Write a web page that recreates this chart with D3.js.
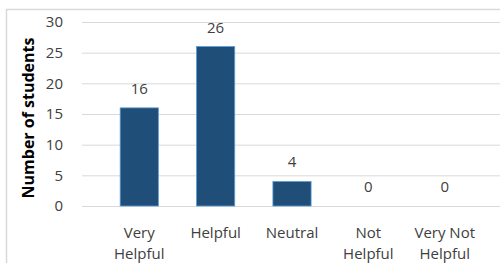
<!DOCTYPE html>
<html><head><meta charset="utf-8">
<script src="https://cdn.jsdelivr.net/npm/d3@7"></script>
<style>body{margin:0;background:#fff}svg{display:block}</style>
</head><body>
<script>
const categories = [["Very","Helpful"],["Helpful"],["Neutral"],["Not","Helpful"],["Very Not","Helpful"]];
const values = [16, 26, 4, 0, 0];
const yTicks = [0, 5, 10, 15, 20, 25, 30];
const yTitle = "Number of students";

const W = 500, H = 263;
const svg = d3.select("body").append("svg").attr("width", W).attr("height", H);
const font = "'Open Sans', 'Noto Sans', sans-serif";
const txt = "#404040";

svg.append("rect").attr("x", 6.5).attr("y", 9.5).attr("width", 500).attr("height", 300)
  .attr("fill", "none").attr("stroke", "#d9d9d9").attr("stroke-width", 1.5);

const x = d3.scaleBand().domain(d3.range(categories.length)).range([82, 502]).padding(0.5);
const y = d3.scaleLinear().domain([0, 30]).range([206, 22]);

const g = svg.append("g");
const yAxis = g.append("g").attr("transform", "translate(82,0)")
  .call(d3.axisLeft(y).tickValues(yTicks).tickSize(-420).tickPadding(19));
yAxis.select(".domain").remove();
yAxis.selectAll(".tick line").attr("stroke", "#d9d9d9").attr("stroke-width", 1);
yAxis.selectAll(".tick text").attr("fill", txt).attr("font-size", 15).attr("font-family", font);

g.selectAll("rect.bar").data(values).join("rect").attr("class", "bar")
  .attr("x", (d, i) => x(i)).attr("width", x.bandwidth())
  .attr("y", d => y(d)).attr("height", d => y(0) - y(d))
  .attr("fill", "#1f4e79").attr("stroke", "#5b9bd5").attr("stroke-width", 0.8);

g.selectAll("text.val").data(values).join("text").attr("class", "val")
  .attr("x", (d, i) => x(i) + x.bandwidth() / 2).attr("y", d => y(d) - 14)
  .attr("text-anchor", "middle").attr("fill", txt).attr("font-size", 15).attr("font-family", font)
  .text(d => d);

const xl = g.selectAll("text.cat").data(categories).join("text").attr("class", "cat")
  .attr("x", (d, i) => x(i) + x.bandwidth() / 2).attr("y", 238)
  .attr("text-anchor", "middle").attr("fill", txt).attr("font-size", 15).attr("font-family", font);
xl.each(function(d) {
  const t = d3.select(this), cx = t.attr("x");
  d.forEach((line, k) => t.append("tspan").attr("x", cx).attr("dy", k ? 21 : 0).text(line));
});

svg.append("text").attr("transform", "translate(34,118) rotate(-90)")
  .attr("text-anchor", "middle").attr("fill", "#000").attr("font-weight", "bold")
  .attr("font-size", 16).attr("font-family", font).text(yTitle);
</script>
</body></html>
